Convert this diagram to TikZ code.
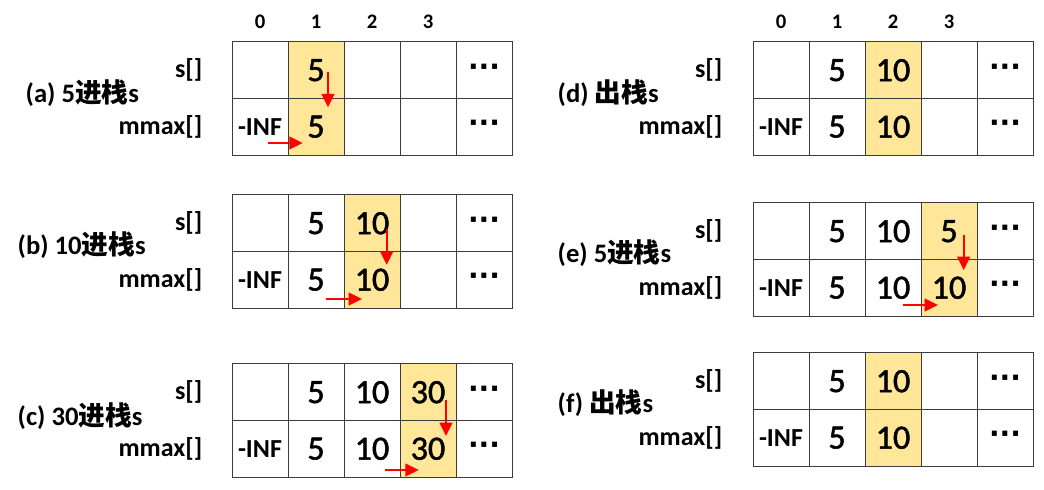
\documentclass[tikz,border=0pt]{standalone}
\usepackage{fontspec}
\setmainfont{Carlito}
\newfontfamily\cjk{Noto Sans CJK SC}
\newfontfamily\numfont{Carlito}[FakeBold=1.5]
\newfontfamily\dotfont{DejaVu Sans}
\usepackage{xcolor}
\usepackage{tikz}
\usetikzlibrary{arrows.meta}
\definecolor{hlfill}{RGB}{255,230,153}
\definecolor{gridline}{RGB}{60,60,60}
\definecolor{arrred}{RGB}{255,0,0}
\tikzset{
  cell/.style={draw=gridline, line width=0.75pt, minimum width=42pt, minimum height=42.4pt, inner sep=0pt, outer sep=0pt, font=\numfont\fontsize{25.5}{27}\selectfont},
  hlcell/.style={cell, fill=hlfill},
  infcell/.style={cell, font=\bfseries\fontsize{19.5}{21}\selectfont},
  dotcell/.style={cell, font=\dotfont\bfseries\fontsize{21}{23}\selectfont},
  rowlbl/.style={anchor=east, font=\bfseries\fontsize{19.5}{21}\selectfont},
  panellbl/.style={anchor=west, font=\bfseries\fontsize{20}{22}\selectfont},
  idxlbl/.style={font=\bfseries\fontsize{15.5}{17}\selectfont},
  redarr/.style={draw=arrred, line width=1.5pt, -{Triangle[length=10pt,width=9.5pt]}}
}
\begin{document}
\begin{tikzpicture}[x=0.75pt,y=0.75pt,yscale=-1,xscale=1]
\useasboundingbox (0,0) rectangle (1044,489);

% Text Node
\node[idxlbl] (l-i0) at (260,22) {0};
\node[idxlbl] (l-i1) at (316,22) {1};
\node[idxlbl] (l-i2) at (372,22) {2};
\node[idxlbl] (l-i3) at (428,22) {3};
\node[idxlbl] (r-i0) at (781,22) {0};
\node[idxlbl] (r-i1) at (837,22) {1};
\node[idxlbl] (r-i2) at (893,22) {2};
\node[idxlbl] (r-i3) at (949,22) {3};

%Table (a)
\node[cell] (a-s0) at (260,70.25) {};
\node[hlcell] (a-s1) at (316,70.25) {5};
\node[cell] (a-s2) at (372,70.25) {};
\node[cell] (a-s3) at (428,70.25) {};
\node[dotcell] (a-s4) at (484,70.25) {···};
\node[infcell] (a-m0) at (260,126.75) {-INF};
\node[hlcell] (a-m1) at (316,126.75) {5};
\node[cell] (a-m2) at (372,126.75) {};
\node[cell] (a-m3) at (428,126.75) {};
\node[dotcell] (a-m4) at (484,126.75) {···};
% Text Node
\node[rowlbl] (a-sl) at (207,70.25) {s[]};
\node[rowlbl] (a-ml) at (207,126.75) {mmax[]};
\node[panellbl] (a-lbl) at (21,93) {(a) 5{\cjk 进栈}s};
%Straight Lines
\draw[redarr] ([xshift=-12pt,yshift=1.5pt]a-s1.east) -- ([xshift=-12pt,yshift=6.5pt]a-m1.north east);
\draw[redarr] ([xshift=-15pt,yshift=-9pt]a-m0.south east) -- ([xshift=11pt,yshift=-9pt]a-m1.south west);

%Table (b)
\node[cell] (b-s0) at (260,223.25) {};
\node[cell] (b-s1) at (316,223.25) {5};
\node[hlcell] (b-s2) at (372,223.25) {10};
\node[cell] (b-s3) at (428,223.25) {};
\node[dotcell] (b-s4) at (484,223.25) {···};
\node[infcell] (b-m0) at (260,279.75) {-INF};
\node[cell] (b-m1) at (316,279.75) {5};
\node[hlcell] (b-m2) at (372,279.75) {10};
\node[cell] (b-m3) at (428,279.75) {};
\node[dotcell] (b-m4) at (484,279.75) {···};
% Text Node
\node[rowlbl] (b-sl) at (207,223.25) {s[]};
\node[rowlbl] (b-ml) at (207,279.75) {mmax[]};
\node[panellbl] (b-lbl) at (13,245) {(b) 10{\cjk 进栈}s};
%Straight Lines
\draw[redarr] ([xshift=-10pt,yshift=4.3pt]b-s2.east) -- ([xshift=-10pt,yshift=10pt]b-m2.north east);
\draw[redarr] ([xshift=-13.5pt,yshift=-6.75pt]b-m1.south east) -- ([xshift=13.5pt,yshift=-6.75pt]b-m2.south west);

%Table (c)
\node[cell] (c-s0) at (260,392.25) {};
\node[cell] (c-s1) at (316,392.25) {5};
\node[cell] (c-s2) at (372,392.25) {10};
\node[hlcell] (c-s3) at (428,392.25) {30};
\node[dotcell] (c-s4) at (484,392.25) {···};
\node[infcell] (c-m0) at (260,448.75) {-INF};
\node[cell] (c-m1) at (316,448.75) {5};
\node[cell] (c-m2) at (372,448.75) {10};
\node[hlcell] (c-m3) at (428,448.75) {30};
\node[dotcell] (c-m4) at (484,448.75) {···};
% Text Node
\node[rowlbl] (c-sl) at (207,392.25) {s[]};
\node[rowlbl] (c-ml) at (207,448.75) {mmax[]};
\node[panellbl] (c-lbl) at (13,416) {(c) 30{\cjk 进栈}s};
%Straight Lines
\draw[redarr] ([xshift=-7.5pt,yshift=5.8pt]c-s3.east) -- ([xshift=-7.5pt,yshift=11.6pt]c-m3.north east);
\draw[redarr] ([xshift=-11pt,yshift=-5.25pt]c-m2.south east) -- ([xshift=14pt,yshift=-5.25pt]c-m3.south west);

%Table (d)
\node[cell] (d-s0) at (781,70.25) {};
\node[cell] (d-s1) at (837,70.25) {5};
\node[hlcell] (d-s2) at (893,70.25) {10};
\node[cell] (d-s3) at (949,70.25) {};
\node[dotcell] (d-s4) at (1005,70.25) {···};
\node[infcell] (d-m0) at (781,126.75) {-INF};
\node[cell] (d-m1) at (837,126.75) {5};
\node[hlcell] (d-m2) at (893,126.75) {10};
\node[cell] (d-m3) at (949,126.75) {};
\node[dotcell] (d-m4) at (1005,126.75) {···};
% Text Node
\node[rowlbl] (d-sl) at (727,70.25) {s[]};
\node[rowlbl] (d-ml) at (727,126.75) {mmax[]};
\node[panellbl] (d-lbl) at (553,93) {(d) {\cjk 出栈}s};

%Table (e)
\node[cell] (e-s0) at (781,231.25) {};
\node[cell] (e-s1) at (837,231.25) {5};
\node[cell] (e-s2) at (893,231.25) {10};
\node[hlcell] (e-s3) at (949,231.25) {5};
\node[dotcell] (e-s4) at (1005,231.25) {···};
\node[infcell] (e-m0) at (781,287.75) {-INF};
\node[cell] (e-m1) at (837,287.75) {5};
\node[cell] (e-m2) at (893,287.75) {10};
\node[hlcell] (e-m3) at (949,287.75) {10};
\node[dotcell] (e-m4) at (1005,287.75) {···};
% Text Node
\node[rowlbl] (e-sl) at (727,231.25) {s[]};
\node[rowlbl] (e-ml) at (727,287.75) {mmax[]};
\node[panellbl] (e-lbl) at (553,253) {(e) 5{\cjk 进栈}s};
%Straight Lines
\draw[redarr] ([xshift=-10pt,yshift=2.8pt]e-s3.east) -- ([xshift=-10pt,yshift=7.9pt]e-m3.north east);
\draw[redarr] ([xshift=-13.5pt,yshift=-8.25pt]e-m2.south east) -- ([xshift=12.75pt,yshift=-8.25pt]e-m3.south west);

%Table (f)
\node[cell] (f-s0) at (781,381.25) {};
\node[cell] (f-s1) at (837,381.25) {5};
\node[hlcell] (f-s2) at (893,381.25) {10};
\node[cell] (f-s3) at (949,381.25) {};
\node[dotcell] (f-s4) at (1005,381.25) {···};
\node[infcell] (f-m0) at (781,437.75) {-INF};
\node[cell] (f-m1) at (837,437.75) {5};
\node[hlcell] (f-m2) at (893,437.75) {10};
\node[cell] (f-m3) at (949,437.75) {};
\node[dotcell] (f-m4) at (1005,437.75) {···};
% Text Node
\node[rowlbl] (f-sl) at (727,381.25) {s[]};
\node[rowlbl] (f-ml) at (727,437.75) {mmax[]};
\node[panellbl] (f-lbl) at (553,403) {(f) {\cjk 出栈}s};

\end{tikzpicture}
\end{document}
